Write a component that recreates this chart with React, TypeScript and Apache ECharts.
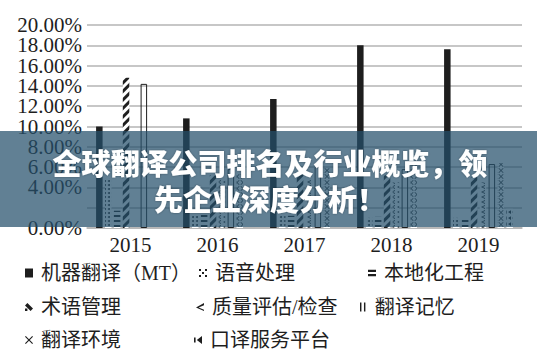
import React, { useEffect, useRef } from "react";
import * as echarts from "echarts";

const years = ["2015", "2016", "2017", "2018", "2019"];
const yTicks = [0, 2, 4, 6, 8, 10, 12, 14, 16, 18, 20];

const seriesNames = [
  "机器翻译（MT）",
  "语音处理",
  "本地化工程",
  "术语管理",
  "质量评估/检查",
  "翻译记忆",
  "翻译环境",
  "口译服务平台",
];

const mtValues = [10.0, 10.8, 12.7, 18.0, 17.6];
const speechValues = [4.9, 1.3, 1.2, 1.0, 1.0];
const localizationValues = [1.7, 1.3, 1.2, 1.1, 1.0];
const terminologyValues = [14.8, 5.2, 5.3, 5.2, 5.0];
const qualityValues = [0, 4.8, 4.8, 4.5, 4.5];
const memoryValues = [14.2, 5.8, 6.0, 5.8, 6.3];
const environmentValues = [0, 5.4, 5.9, 6.5, 6.4];
const interpretingValues = [0, 0, 0, 0, 1.9];

const titleLines = ["全球翻译公司排名及行业概览，领", "先企业深度分析！"];

const INK = "#1e1e1e";
const SERIF = "'Liberation Serif', 'DejaVu Serif', 'Noto Sans CJK SC', serif";
const CJK = "'Liberation Serif', 'Noto Sans CJK SC', serif";

const X_PATH =
  "path://M0,1 L1,0 L5,4 L9,0 L10,1 L6,5 L10,9 L9,10 L5,6 L1,10 L0,9 L4,5Z";
const CHEVRON_PATH = "path://M10,0 L10,2.5 L4,5 L10,7.5 L10,10 L0,5Z";
const TRI_PATH = "path://M10,0 L10,10 L2,5Z";

const legendIcons = [
  "rect",
  "path://M0,0h2v2h-2z M6,0h2v2h-2z M3,3h2v2h-2z M0,6h2v2h-2z M6,6h2v2h-2z",
  "path://M0,1h10v2.6h-10z M0,6.4h10v2.6h-10z",
  "path://M0,3 L3,0 L10,7 L7,10Z M0,7h3v3h-3z",
  "path://M10,1 L10,3.5 L4,6 L10,8.5 L10,10 L1,6Z",
  "path://M2,0h1.6v10h-1.6z M6.4,0h1.6v10h-1.6z",
  X_PATH,
  "path://M0,2h2v6h-2z M10,0 L10,10 L3.5,5Z",
];

const legendPos = [
  { left: 25, top: 263 },
  { left: 199, top: 263 },
  { left: 368, top: 263 },
  { left: 25, top: 297 },
  { left: 196, top: 297 },
  { left: 360, top: 297 },
  { left: 25, top: 330 },
  { left: 194, top: 330 },
];

export default function App() {
  const ref = useRef<HTMLDivElement>(null);

  useEffect(() => {
    document.body.style.margin = "0";
    if (!ref.current) return;
    const chart = echarts.init(ref.current, null, { renderer: "svg" });

    const decals: any[] = [
      null,
      {
        symbol: "circle",
        symbolSize: 1,
        dashArrayX: [1.5, 1.2],
        dashArrayY: [1.5, 1.2],
        color: "#333",
      },
      {
        symbol: "rect",
        dashArrayX: [1, 0],
        dashArrayY: [1.5, 2.5],
        color: INK,
      },
      {
        symbol: "rect",
        dashArrayX: [1, 0],
        dashArrayY: [2.2, 2.6],
        rotation: -Math.PI / 4,
        color: INK,
      },
      {
        symbol: CHEVRON_PATH,
        dashArrayX: [6, 0],
        dashArrayY: [4, 1],
        color: INK,
      },
      null,
      {
        symbol: X_PATH,
        dashArrayX: [6, 0],
        dashArrayY: [5, 0.5],
        color: INK,
      },
      {
        symbol: TRI_PATH,
        dashArrayX: [3, 1],
        dashArrayY: [4, 1.5],
        color: INK,
      },
    ];

    const dataArrays = [
      mtValues,
      speechValues,
      localizationValues,
      terminologyValues,
      qualityValues,
      memoryValues,
      environmentValues,
      interpretingValues,
    ];

    const series = seriesNames.map((name, i) => {
      let itemStyle: any;
      if (i === 0) {
        itemStyle = { color: INK };
      } else if (i === 5) {
        itemStyle = {
          color: "rgba(255,255,255,0)",
          borderColor: INK,
          borderWidth: 1,
        };
      } else {
        itemStyle = { color: "#ffffff", decal: decals[i] };
      }
      return {
        name,
        type: "bar",
        yAxisIndex: 0,
        data: dataArrays[i],
        barWidth: 6.5,
        barGap: "37%",
        itemStyle,
      };
    });

    const legends = seriesNames.map((name, i) => ({
      data: [
        {
          name,
          icon: legendIcons[i],
          itemStyle: { color: INK, borderWidth: 0, decal: "none" },
        },
      ],
      left: legendPos[i].left,
      top: legendPos[i].top,
      itemWidth: 8,
      itemHeight: 9,
      padding: 0,
      selectedMode: false,
      textStyle: {
        fontSize: 20,
        color: INK,
        fontFamily: CJK,
        padding: [0, 0, 0, 3],
      },
    }));

    const yMin = yTicks[0];
    const yMax = yTicks[yTicks.length - 1];
    const labelStyle = {
      fontSize: 21,
      color: INK,
      fontFamily: SERIF,
      margin: 5,
    };

    chart.setOption({
      animation: false,
      backgroundColor: "#ffffff",
      grid: { left: 87, right: 15, top: 25, bottom: 131 },
      legend: legends,
      xAxis: {
        type: "category",
        data: years,
        axisTick: { show: false },
        axisLine: { show: true, lineStyle: { color: "#b4b4b4", width: 1.5 } },
        axisLabel: {
          fontSize: 21,
          color: INK,
          fontFamily: SERIF,
          margin: 6,
        },
      },
      yAxis: [
        {
          type: "value",
          position: "left",
          min: yMin,
          max: yMax,
          interval: 2,
          axisLine: { show: false },
          axisTick: { show: false },
          splitLine: { lineStyle: { color: "#b4b4b4", width: 1.5 } },
          axisLabel: {
            ...labelStyle,
            showMinLabel: true,
            showMaxLabel: false,
            formatter: (v: number) => v.toFixed(2) + "%",
          },
        },
        {
          type: "value",
          position: "left",
          min: yMin,
          max: yMax,
          interval: 2,
          axisLine: { show: false },
          axisTick: { show: false },
          splitLine: { show: false },
          axisLabel: {
            ...labelStyle,
            showMinLabel: false,
            showMaxLabel: true,
            formatter: (v: number) => (v === yMax ? v.toFixed(2) + "%" : ""),
          },
        },
      ],
      series,
      graphic: [
        {
          type: "rect",
          shape: { x: 0, y: 131, width: 537, height: 96 },
          style: { fill: "rgba(36,79,107,0.72)" },
          z: 100,
        },
        {
          type: "text",
          x: 270,
          y: 180,
          z: 101,
          style: {
            text: titleLines.join("\n"),
            fill: "#ffffff",
            fontSize: 29,
            fontWeight: 900,
            fontFamily: "'Noto Sans CJK SC', sans-serif",
            lineHeight: 36,
            align: "center",
            verticalAlign: "middle",
            textShadowColor: "rgba(0,0,0,0.35)",
            textShadowBlur: 2,
          },
        },
      ],
    });

    return () => chart.dispose();
  }, []);

  return <div ref={ref} style={{ width: 537, height: 359 }} />;
}
